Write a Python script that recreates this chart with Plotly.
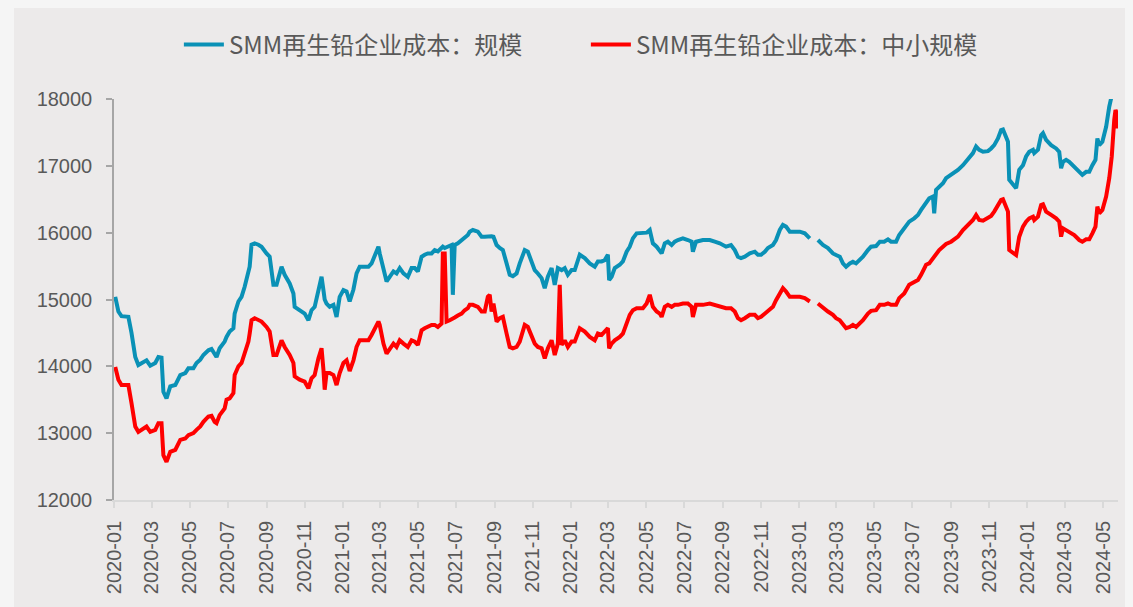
import plotly.graph_objects as go

dates = [
    "2020-01-03","2020-01-08","2020-01-13","2020-01-24","2020-01-29","2020-02-04","2020-02-09","2020-02-17",
    "2020-02-22","2020-02-28","2020-03-07","2020-03-12","2020-03-17","2020-03-20","2020-03-25","2020-03-31",
    "2020-04-08","2020-04-16","2020-04-24","2020-04-29","2020-05-07","2020-05-12","2020-05-18","2020-05-23",
    "2020-05-31","2020-06-05","2020-06-10","2020-06-13","2020-06-18","2020-06-26","2020-06-29","2020-07-04",
    "2020-07-10","2020-07-12","2020-07-18","2020-07-23","2020-07-28","2020-08-03","2020-08-05","2020-08-08",
    "2020-08-13","2020-08-19","2020-08-24","2020-09-01","2020-09-06","2020-09-12","2020-09-17","2020-09-25",
    "2020-09-30","2020-10-08","2020-10-14","2020-10-16","2020-10-24","2020-11-01","2020-11-07","2020-11-12",
    "2020-11-17","2020-11-23","2020-11-28","2020-12-01","2020-12-03","2020-12-06","2020-12-11","2020-12-17",
    "2020-12-22","2020-12-27","2021-01-02","2021-01-07","2021-01-12","2021-01-18","2021-01-23","2021-01-28",
    "2021-02-11","2021-02-16","2021-02-21","2021-02-27","2021-03-01","2021-03-07","2021-03-12","2021-03-17",
    "2021-03-23","2021-03-28","2021-04-02","2021-04-08","2021-04-15","2021-04-21","2021-04-26","2021-05-01",
    "2021-05-07","2021-05-12","2021-05-17","2021-05-23","2021-05-28","2021-06-02","2021-06-08","2021-06-10",
    "2021-06-13","2021-06-16","2021-06-21","2021-06-24","2021-06-26","2021-06-29","2021-07-04","2021-07-10",
    "2021-07-15","2021-07-20","2021-07-23","2021-07-28","2021-08-05","2021-08-11","2021-08-16","2021-08-21",
    "2021-08-24","2021-08-27","2021-08-30","2021-09-04","2021-09-09","2021-09-14","2021-09-20","2021-09-25",
    "2021-09-30","2021-10-06","2021-10-11","2021-10-19","2021-10-24","2021-10-30","2021-11-04","2021-11-09",
    "2021-11-15","2021-11-20","2021-11-25","2021-12-01","2021-12-06","2021-12-11","2021-12-14","2021-12-17",
    "2021-12-22","2021-12-27","2022-01-02","2022-01-07","2022-01-15","2022-01-23","2022-01-31","2022-02-08",
    "2022-02-13","2022-02-19","2022-02-24","2022-03-01","2022-03-03","2022-03-07","2022-03-12","2022-03-20",
    "2022-03-25","2022-03-31","2022-04-05","2022-04-10","2022-04-16","2022-04-26","2022-05-02","2022-05-07",
    "2022-05-12","2022-05-18","2022-05-23","2022-05-26","2022-05-31","2022-06-05","2022-06-11","2022-06-16",
    "2022-06-21","2022-06-29","2022-07-07","2022-07-13","2022-07-15","2022-07-20","2022-07-31","2022-08-11",
    "2022-08-19","2022-08-27","2022-09-06","2022-09-14","2022-09-20","2022-09-25","2022-09-30","2022-10-06",
    "2022-10-14","2022-10-22","2022-10-27","2022-11-01","2022-11-07","2022-11-12","2022-11-20","2022-11-25",
    "2022-12-01","2022-12-06","2022-12-11","2022-12-17","2022-12-25","2023-01-02","2023-01-10","2023-01-18",
    "2023-01-24","2023-01-31","2023-02-08","2023-02-16","2023-02-24","2023-03-01","2023-03-07","2023-03-12",
    "2023-03-17","2023-03-23","2023-03-28","2023-04-02","2023-04-08","2023-04-13","2023-04-21","2023-04-26",
    "2023-05-04","2023-05-10","2023-05-17","2023-05-23","2023-05-28","2023-06-05","2023-06-10","2023-06-18",
    "2023-06-26","2023-07-04","2023-07-10","2023-07-15","2023-07-23","2023-07-28","2023-08-03","2023-08-05",
    "2023-08-08","2023-08-13","2023-08-19","2023-08-24","2023-09-01","2023-09-06","2023-09-12","2023-09-20",
    "2023-09-28","2023-10-06","2023-10-11","2023-10-16","2023-10-22","2023-10-30","2023-11-04","2023-11-09",
    "2023-11-15","2023-11-20","2023-11-23","2023-11-28","2023-12-01","2023-12-03","2023-12-09","2023-12-14",
    "2023-12-19","2023-12-25","2023-12-30","2024-01-04","2024-01-10","2024-01-12","2024-01-18","2024-01-23",
    "2024-01-26","2024-01-31","2024-02-08","2024-02-16","2024-02-21","2024-02-24","2024-02-27","2024-03-03",
    "2024-03-08","2024-03-16","2024-03-24","2024-03-29","2024-04-04","2024-04-09","2024-04-14","2024-04-19",
    "2024-04-22","2024-04-25","2024-04-30","2024-05-06","2024-05-11","2024-05-14","2024-05-15","2024-05-19",
    "2024-05-21","2024-05-23","2024-05-24",
]

large_scale = [
    15040,14820,14750,14740,14500,14140,14020,14070,14090,14010,14050,14140,14130,13620,13520,13700,
    13720,13870,13900,13970,13970,14050,14100,14170,14240,14260,14170,14140,14270,14370,14440,14520,
    14570,14790,14970,15040,15190,15420,15490,15820,15840,15820,15790,15690,15640,15220,15220,15490,
    15370,15240,15090,14890,14840,14790,14690,14840,14890,15170,15340,15140,15000,14940,14890,14920,
    14740,15040,15140,15120,14970,15150,15390,15490,15490,15540,15640,15790,15690,15440,15270,15340,
    15420,15390,15470,15390,15340,15470,15470,15420,15640,15670,15690,15690,15740,15720,15790,15790,
    15770,15780,15800,15815,15070,15815,15840,15890,15940,15965,16015,16040,16015,15940,15940,15945,
    15950,15945,15940,15815,15770,15740,15540,15370,15350,15390,15540,15740,15715,15570,15440,15390,
    15320,15170,15340,15470,15220,15470,15450,15440,15470,15370,15440,15440,15670,15620,15540,15490,
    15570,15570,15590,15670,15290,15340,15470,15520,15570,15715,15790,15915,15990,15990,16000,16040,
    15840,15790,15740,15690,15840,15865,15815,15865,15890,15915,15890,15865,15715,15865,15890,15890,
    15865,15840,15790,15815,15740,15640,15620,15640,15690,15715,15670,15670,15715,15770,15815,15890,
    16040,16115,16090,16015,16015,16015,15990,15915,None,15890,15815,15770,15690,15665,15640,15540,
    15490,15540,15565,15540,15590,15640,15740,15790,15800,15865,15865,15900,15865,15865,15965,16065,
    16165,16215,16265,16340,16465,16515,16540,16290,16640,16690,16740,16815,16865,16890,16940,17010,
    17110,17190,17290,17240,17210,17220,17260,17310,17410,17535,17545,17410,17360,16790,16715,16665,
    16940,17010,17140,17210,17240,17190,17240,17460,17490,17390,17310,17260,17210,16965,17060,17090,
    17060,16990,16910,16865,16910,16910,17010,17090,17410,17310,17360,17585,17885,18010,None,None,
    None,None,None,
]

small_scale = [
    13990,13800,13720,13720,13450,13100,13020,13070,13100,13020,13050,13150,13150,12670,12570,12720,
    12750,12900,12920,12970,13000,13050,13100,13170,13250,13260,13170,13150,13270,13370,13500,13520,
    13600,13870,14000,14050,14190,14370,14490,14690,14720,14690,14670,14590,14520,14170,14170,14390,
    14290,14170,14050,13850,13800,13770,13670,13820,13870,14120,14270,13950,13650,13900,13900,13870,
    13720,13900,14050,14090,13930,14090,14290,14390,14390,14470,14570,14670,14620,14340,14190,14270,
    14340,14290,14390,14340,14290,14390,14370,14320,14540,14570,14600,14620,14620,14590,14640,15690,
    15690,14670,14690,14700,14720,14730,14760,14790,14840,14870,14920,14920,14890,14820,14820,15040,
    15070,14820,14940,14670,14720,14740,14490,14290,14270,14290,14370,14620,14590,14440,14340,14290,
    14270,14120,14270,14390,14170,14340,15220,14320,14390,14290,14370,14370,14570,14520,14440,14390,
    14490,14470,14520,14570,14270,14340,14390,14440,14490,14640,14770,14840,14870,14870,14940,15070,
    14890,14820,14790,14740,14890,14920,14890,14920,14920,14940,14940,14890,14740,14920,14920,14940,
    14920,14890,14870,14870,14820,14720,14690,14720,14770,14770,14720,14740,14790,14840,14890,14990,
    15090,15170,15120,15040,15040,15040,15020,14970,None,14940,14870,14820,14770,14720,14690,14620,
    14570,14590,14620,14590,14640,14690,14790,14830,14840,14920,14920,14940,14920,14920,15020,15090,
    15220,15270,15290,15370,15520,15540,15620,15640,15670,15740,15790,15830,15865,15900,15940,16040,
    16115,16190,16265,16190,16180,16215,16250,16315,16415,16490,16500,16390,16315,15740,15700,15665,
    15940,16090,16165,16215,16240,16190,16240,16415,16425,16315,16265,16215,16165,15940,16065,16040,
    16015,15965,15890,15865,15900,15900,15990,16090,16390,16290,16340,16540,16815,17000,17140,17690,
    17835,17790,17560,
]

y_ticks = [12000, 13000, 14000, 15000, 16000, 17000, 18000]
name_large = "SMM再生铅企业成本：规模"
name_small = "SMM再生铅企业成本：中小规模"

fig = go.Figure()
fig.add_trace(go.Scatter(x=dates, y=large_scale, mode="lines", name=name_large,
                         line=dict(color="#0A91B6", width=4), connectgaps=False))
fig.add_trace(go.Scatter(x=dates, y=small_scale, mode="lines", name=name_small,
                         line=dict(color="#FF0000", width=4), connectgaps=False))

# panel background (page body has an 8px margin, figure starts at page x=8, y=8)
fig.add_shape(type="rect", xref="paper", yref="paper", x0=-0.0996, x1=1.03, y0=-0.3, y1=1.227,
              fillcolor="#ECEAEA", line=dict(width=0), layer="below")

tick_font = dict(family="Liberation Sans, Arial, sans-serif", size=20, color="#595959")

fig.update_layout(
    width=1133, height=607,
    margin=dict(l=106, r=23, t=91, b=115),
    paper_bgcolor="#F5F5F5",
    plot_bgcolor="rgba(0,0,0,0)",
    showlegend=True,
    legend=dict(orientation="h", x=0.47, xanchor="center", y=1.135, yanchor="middle",
                font=dict(family="Noto Sans CJK SC", size=24, color="#595959"),
                bgcolor="rgba(0,0,0,0)", entrywidth=352, itemwidth=40),
    xaxis=dict(type="date", range=["2020-01-01", "2024-05-25"], tick0="2020-01-01", dtick="M2",
               tickformat="%Y-%m", tickangle=-90, showgrid=False, zeroline=False,
               showline=True, linecolor="#D9D9D9", linewidth=1.5,
               ticks="outside", ticklen=6, tickcolor="#D9D9D9", tickwidth=1.5,
               tickfont=tick_font, ticklabelstandoff=5),
    yaxis=dict(range=[12000, 18000], tickvals=y_ticks, tickformat="d", showgrid=False, zeroline=False,
               showline=True, linecolor="#A6A6A6", linewidth=1.5,
               ticks="outside", ticklen=6, tickcolor="#A6A6A6", tickwidth=1.5,
               tickfont=tick_font, ticklabelstandoff=10),
)

fig.write_html("out.html", post_script="document.body.style.background='#F5F5F5';")
